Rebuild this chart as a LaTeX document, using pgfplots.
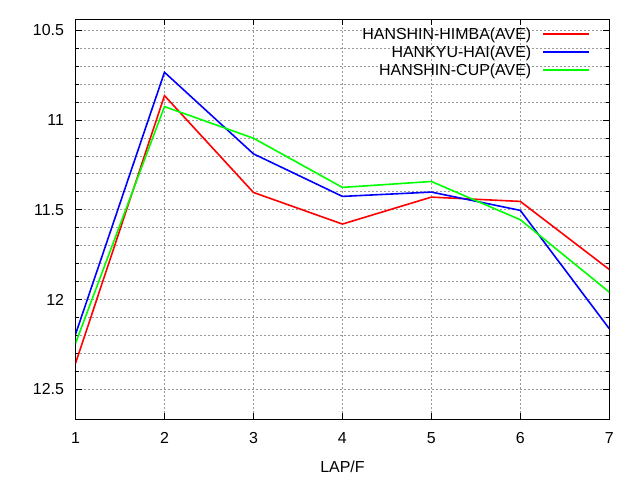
\documentclass[border=0pt]{standalone}
\usepackage{pgfplots}
\pgfplotsset{compat=1.18}
\usepackage{fontspec}
\setmainfont{Liberation Sans}
\begin{document}
\begin{tikzpicture}[x=1bp,y=1bp]
\path[use as bounding box] (0,0) rectangle (640,480);
\begin{axis}[
  at={(75.5bp,60.7bp)}, anchor=south west,
  scale only axis, width=533.8bp, height=400bp,
  xmin=1, xmax=7, ymin=10.44, ymax=12.667,
  y dir=reverse,
  xtick={1,...,7}, ytick={10.5,11,11.5,12,12.5},
  minor y tick num=4,
  grid=both,
  major grid style={draw=black!40, dash pattern=on 2bp off 2bp, line width=0.6bp},
  minor grid style={draw=black!40, dash pattern=on 2bp off 2bp, line width=0.6bp},
  minor x tick num=0,
  tick align=inside,
  major tick length=6bp, minor tick length=3bp,
  tick style={black, line width=0.6bp},
  axis line style={black, line width=1bp},
  /pgf/number format/assume math mode=true,
  ticklabel style={font=\fontsize{16}{19}\selectfont},
  yticklabel style={/pgf/number format/fixed, /pgf/number format/precision=1, xshift=-8bp},
  xticklabel style={yshift=-10bp},
  xlabel={LAP/F},
  xlabel style={font=\fontsize{16}{19}\selectfont, yshift=-10bp},
  legend plot pos=right,
  legend cell align=right,
  legend style={draw=none, fill=none, at={(rel axis cs:0.9639,0.985)}, anchor=north east,
    font=\fontsize{16}{19}\selectfont, row sep=1bp, column sep=9bp, inner sep=0bp},
  legend image code/.code={\draw[#1] (0bp,0bp) -- (46bp,0bp);},
]
\addplot[red, line width=1.6bp] coordinates {(1,12.356) (2,10.865) (3,11.404) (4,11.58) (5,11.43) (6,11.454) (7,11.833)};
\addlegendentry{HANSHIN-HIMBA(AVE)}
\addplot[blue, line width=1.6bp] coordinates {(1,12.194) (2,10.735) (3,11.189) (4,11.426) (5,11.402) (6,11.504) (7,12.163)};
\addlegendentry{HANKYU-HAI(AVE)}
\addplot[green, line width=1.6bp] coordinates {(1,12.244) (2,10.926) (3,11.102) (4,11.376) (5,11.343) (6,11.556) (7,11.959)};
\addlegendentry{HANSHIN-CUP(AVE)}
\end{axis}
\end{tikzpicture}
\end{document}
